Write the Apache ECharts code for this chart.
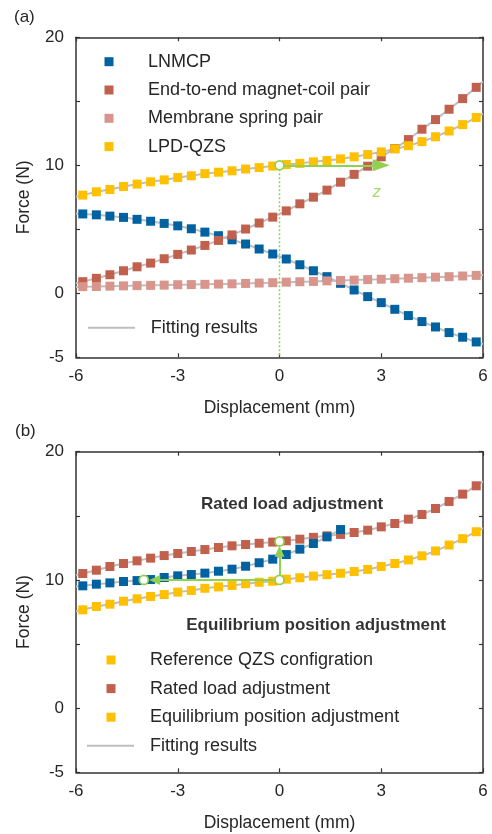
<!DOCTYPE html>
<html>
<head>
<meta charset="utf-8">
<script src="https://cdn.jsdelivr.net/npm/echarts@6/dist/echarts.min.js"></script>
<style>
html, body { margin: 0; padding: 0; background: #fff; }
#chart { width: 492px; height: 834px; }
</style>
</head>
<body>
<div id="chart"></div>
<script>
// Displacement samples (mm)
const displacement = [-5.8, -5.4, -5.0, -4.6, -4.2, -3.8, -3.4, -3.0, -2.6, -2.2,
  -1.8, -1.4, -1.0, -0.6, -0.2, 0.2, 0.6, 1.0, 1.4, 1.8,
  2.2, 2.6, 3.0, 3.4, 3.8, 4.2, 4.6, 5.0, 5.4, 5.8];
const shiftedDisplacement = [-5.8, -5.4, -5.0, -4.6, -4.2, -3.8, -3.4, -3.0, -2.6, -2.2,
  -1.8, -1.4, -1.0, -0.6, -0.2, 0.2, 0.6, 1.0, 1.4, 1.8];

// (a) force components (N)
const lnmcp = [6.20, 6.13, 6.03, 5.93, 5.78, 5.63, 5.46, 5.27, 5.04, 4.78,
  4.50, 4.18, 3.85, 3.46, 3.07, 2.68, 2.23, 1.76, 1.30, 0.78,
  0.26, -0.26, -0.73, -1.25, -1.74, -2.21, -2.63, -3.07, -3.43, -3.80];
const endToEndPair = [0.91, 1.17, 1.45, 1.76, 2.07, 2.36, 2.70, 3.04, 3.38, 3.74,
  4.13, 4.56, 5.02, 5.49, 5.95, 6.44, 6.99, 7.51, 8.06, 8.68,
  9.29, 9.93, 10.66, 11.31, 12.01, 12.82, 13.57, 14.38, 15.21, 16.09];
const membranePair = [0.52, 0.53, 0.56, 0.58, 0.60, 0.62, 0.64, 0.67, 0.68, 0.70,
  0.72, 0.74, 0.77, 0.80, 0.83, 0.87, 0.90, 0.93, 0.97, 1.00,
  1.03, 1.07, 1.10, 1.14, 1.18, 1.22, 1.26, 1.30, 1.35, 1.40];
const lpdQzs = [7.67, 7.93, 8.11, 8.34, 8.53, 8.71, 8.86, 9.05, 9.18, 9.35,
  9.46, 9.57, 9.71, 9.82, 9.94, 10.06, 10.15, 10.27, 10.37, 10.50,
  10.66, 10.84, 11.05, 11.28, 11.53, 11.85, 12.23, 12.68, 13.18, 13.73];

// (b) adjusted configurations (N)
const referenceQzs = [7.67, 7.93, 8.11, 8.34, 8.53, 8.71, 8.86, 9.05, 9.18, 9.35,
  9.46, 9.57, 9.71, 9.82, 9.90, 10.06, 10.17, 10.30, 10.41, 10.52,
  10.66, 10.82, 11.05, 11.28, 11.56, 11.88, 12.26, 12.72, 13.22, 13.76];
const ratedLoad = [10.50, 10.76, 11.05, 11.28, 11.49, 11.70, 11.90, 12.06, 12.22, 12.37,
  12.53, 12.66, 12.76, 12.86, 12.95, 13.05, 13.18, 13.32, 13.44, 13.55,
  13.70, 13.88, 14.14, 14.40, 14.74, 15.10, 15.57, 16.12, 16.69, 17.34];
const equilibriumShift = [9.54, 9.67, 9.77, 9.88, 9.95, 10.03, 10.19, 10.32, 10.42, 10.53,
  10.68, 10.84, 11.07, 11.34, 11.62, 11.98, 12.40, 12.84, 13.36, 13.93];

// Fitted curve values at the ends of the fitting range [start, end]
const lnmcpFitEnds = [6.22, -3.97];
const endToEndFitEnds = [0.78, 16.55];
const membraneFitEnds = [0.50, 1.43];
const lpdQzsFitEnds = [7.55, 14.03];
const referenceFitEnds = [7.55, 14.05];
const ratedLoadFitEnds = [10.36, 17.68];
const equilibriumFitStart = 9.48;

// Axis ticks
const xTicks = { min: -6, max: 6, step: 3 };
const yTicks = { min: -5, max: 20, step: 5 };
const yLabelled = [-5, 0, 10, 20];

const FONT = "'Liberation Sans', Arial, Helvetica, sans-serif";
const TEXT = '#262626';
const AXIS = '#333333';
const BLUE = '#0062A0', BROWN = '#C0604D', PINK = '#D9958C', YELLOW = '#FFC000';
const GREY = '#BEBEBE', GREEN = '#92D050';

const pairs = (xs, ys) => xs.map((x, i) => [x, ys[i]]);
const fitData = (xs, ys, ends) => [[xTicks.min, ends[0]], ...pairs(xs, ys), [xTicks.max, ends[1]]];

function xAxes(grid) {
  const base = {
    gridIndex: grid, type: 'value', min: xTicks.min, max: xTicks.max, interval: xTicks.step,
    axisLine: { show: true, onZero: false, lineStyle: { color: AXIS, width: 1.5 } },
    axisTick: { show: true, inside: true, length: 4, lineStyle: { color: AXIS, width: 1.2 } },
    splitLine: { show: false }
  };
  return [
    Object.assign({}, base, {
      position: 'bottom',
      axisLabel: { fontSize: 17, color: TEXT, margin: 11, fontFamily: FONT },
      name: 'Displacement (mm)', nameLocation: 'middle', nameGap: 42,
      nameTextStyle: { fontSize: 17.5, color: TEXT, fontFamily: FONT }
    }),
    Object.assign({}, base, { position: 'top', axisLabel: { show: false } })
  ];
}
function yAxes(grid) {
  const base = {
    gridIndex: grid, type: 'value', min: yTicks.min, max: yTicks.max, interval: yTicks.step,
    axisLine: { show: true, onZero: false, lineStyle: { color: AXIS, width: 1.5 } },
    axisTick: { show: true, inside: true, length: 4, lineStyle: { color: AXIS, width: 1.2 } },
    splitLine: { show: false }
  };
  return [
    Object.assign({}, base, {
      position: 'left',
      axisLabel: {
        fontSize: 17, color: TEXT, margin: 12, fontFamily: FONT,
        formatter: v => (yLabelled.indexOf(v) >= 0 ? String(v) : '')
      },
      name: 'Force (N)', nameLocation: 'middle', nameGap: 43,
      nameTextStyle: { fontSize: 17.5, color: TEXT, fontFamily: FONT }
    }),
    Object.assign({}, base, { position: 'right', axisLabel: { show: false } })
  ];
}

function fitSeries(grid, data) {
  return {
    name: 'Fitting results', type: 'line', xAxisIndex: grid * 2, yAxisIndex: grid * 2,
    data: data, showSymbol: false, symbol: 'none', silent: true, z: 1,
    itemStyle: { color: GREY }, lineStyle: { color: GREY, width: 2 }
  };
}
function markerSeries(grid, name, color, data) {
  return {
    name: name, type: 'scatter', xAxisIndex: grid * 2, yAxisIndex: grid * 2,
    data: data, symbol: 'rect', symbolSize: 9, silent: true, z: 2,
    itemStyle: { color: color, opacity: 1 }
  };
}
function arrowSeries(grid, from, to, head) {
  return {
    type: 'line', xAxisIndex: grid * 2, yAxisIndex: grid * 2, data: [], silent: true, z: 4,
    markLine: {
      silent: true, symbol: ['none', 'triangle'], symbolSize: head,
      label: { show: false },
      lineStyle: { color: GREEN, width: 2, type: 'solid' },
      itemStyle: { color: GREEN },
      data: [[{ coord: from }, { coord: to }]]
    }
  };
}
function ringSeries(grid, points) {
  return {
    type: 'scatter', xAxisIndex: grid * 2, yAxisIndex: grid * 2, data: points,
    symbol: 'circle', symbolSize: 9, silent: true, z: 6,
    itemStyle: { color: '#ffffff', borderColor: GREEN, borderWidth: 1.8, opacity: 1 }
  };
}
function noteSeries(grid, point, text, style) {
  return {
    type: 'scatter', xAxisIndex: grid * 2, yAxisIndex: grid * 2, data: [point],
    symbolSize: 1, silent: true, z: 7, itemStyle: { color: 'transparent' },
    label: Object.assign({ show: true, position: 'inside', formatter: text, fontFamily: FONT }, style)
  };
}

// Square-marker legend: 9px squares, text pushed right with padding
function squareLegend(left, top, gap, data) {
  return {
    orient: 'vertical', padding: 0, selectedMode: false, left: left, top: top, itemGap: gap,
    icon: 'rect', itemWidth: 9, itemHeight: 9, data: data,
    textStyle: { fontSize: 18, color: TEXT, fontFamily: FONT, lineHeight: 20, padding: [0, 0, 0, 29.5] }
  };
}
// Grey line legend entry for the fitted curves
function fitLegend(left, top, pad) {
  return {
    orient: 'vertical', padding: 0, selectedMode: false, left: left, top: top,
    icon: 'rect', itemWidth: 47, itemHeight: 2, data: ['Fitting results'],
    textStyle: { fontSize: 18, color: TEXT, fontFamily: FONT, lineHeight: 20, padding: [0, 0, 0, pad] }
  };
}

const option = {
  animation: false,
  backgroundColor: '#ffffff',
  textStyle: { fontFamily: FONT },
  grid: [
    { left: 76, right: 9, top: 37.3, height: 320, containLabel: false },
    { left: 76, right: 9, top: 451.7, height: 320.6, containLabel: false }
  ],
  xAxis: [...xAxes(0), ...xAxes(1)],
  yAxis: [...yAxes(0), ...yAxes(1)],
  legend: [
    squareLegend(104.5, 51.7, 8.3,
      ['LNMCP', 'End-to-end magnet-coil pair', 'Membrane spring pair', 'LPD-QZS']),
    fitLegend(88, 317.7, 10.7),
    squareLegend(106.5, 650, 8.6, [
      'Reference QZS configration',
      'Rated load adjustment',
      { name: 'Equilibrium position adjustment', itemStyle: { color: YELLOW } }
    ]),
    fitLegend(87, 735.7, 11)
  ],
  graphic: [
    { type: 'text', left: 14, top: 9, style: { text: '(a)', fontSize: 17, fill: TEXT, fontFamily: FONT } },
    { type: 'text', left: 15, top: 423, style: { text: '(b)', fontSize: 17, fill: TEXT, fontFamily: FONT } }
  ],
  series: [
    // (a)
    fitSeries(0, fitData(displacement, lnmcp, lnmcpFitEnds)),
    fitSeries(0, fitData(displacement, endToEndPair, endToEndFitEnds)),
    fitSeries(0, fitData(displacement, membranePair, membraneFitEnds)),
    fitSeries(0, fitData(displacement, lpdQzs, lpdQzsFitEnds)),
    markerSeries(0, 'LNMCP', BLUE, pairs(displacement, lnmcp)),
    markerSeries(0, 'End-to-end magnet-coil pair', BROWN, pairs(displacement, endToEndPair)),
    markerSeries(0, 'Membrane spring pair', PINK, pairs(displacement, membranePair)),
    markerSeries(0, 'LPD-QZS', YELLOW, pairs(displacement, lpdQzs)),
    {
      type: 'line', xAxisIndex: 0, yAxisIndex: 0, data: [[0, 10], [0, -5]],
      showSymbol: false, symbol: 'none', silent: true, z: 3,
      lineStyle: { color: GREEN, width: 1.5, type: [2, 2] }
    },
    arrowSeries(0, [0, 10], [3.0, 10], [12, 17]),
    ringSeries(0, [[0, 10]]),
    noteSeries(0, [2.87, 7.93], 'z', { fontSize: 17, fontStyle: 'italic', color: GREEN }),

    // (b)
    fitSeries(1, fitData(displacement, referenceQzs, referenceFitEnds)),
    fitSeries(1, fitData(displacement, ratedLoad, ratedLoadFitEnds)),
    fitSeries(1, [[xTicks.min, equilibriumFitStart], ...pairs(shiftedDisplacement, equilibriumShift)]),
    markerSeries(1, 'Reference QZS configration', YELLOW, pairs(displacement, referenceQzs)),
    markerSeries(1, 'Rated load adjustment', BROWN, pairs(displacement, ratedLoad)),
    markerSeries(1, 'Equilibrium position adjustment', BLUE, pairs(shiftedDisplacement, equilibriumShift)),
    arrowSeries(1, [0, 10], [-3.68, 10], [10, 11]),
    arrowSeries(1, [0, 10], [0, 12.23], [10, 11]),
    ringSeries(1, [[0, 10], [0, 13], [-4, 10]]),
    noteSeries(1, [0.37, 15.9], 'Rated load adjustment', { fontSize: 17, fontWeight: 'bold', color: '#000' }),
    noteSeries(1, [1.08, 6.47], 'Equilibrium position adjustment', { fontSize: 17, fontWeight: 'bold', color: '#000' })
  ]
};

const chart = echarts.init(document.getElementById('chart'), null, { renderer: 'canvas' });
chart.setOption(option);
</script>
</body>
</html>
